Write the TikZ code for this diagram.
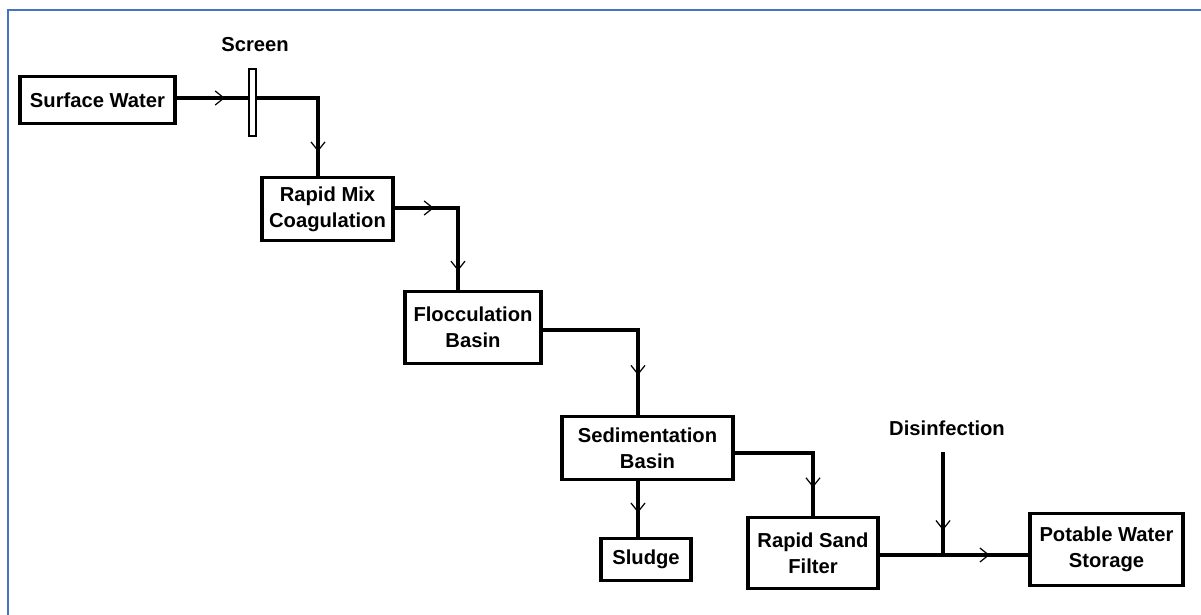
\documentclass[tikz,border=0pt]{standalone}
\usepackage{fontspec}
\setmainfont{Liberation Sans}
\usetikzlibrary{arrows.meta,decorations.markings}

\tikzset{
  unit/.style={draw, line width=2pt, align=center, inner sep=0pt,
    font=\bfseries\fontsize{11.5}{14.6}\selectfont},
  flow/.style={line width=1.8pt},
  tip at/.style={postaction={decorate}, decoration={markings,
    mark=at position #1 with {\arrow{Straight Barb[line width=0.7pt,length=5pt,width=8pt]}}}},
  two tips/.style 2 args={postaction={decorate}, decoration={markings,
    mark=at position #1 with {\arrow{Straight Barb[line width=0.7pt,length=5pt,width=8pt]}},
    mark=at position #2 with {\arrow{Straight Barb[line width=0.7pt,length=5pt,width=8pt]}}}},
  lbl/.style={font=\bfseries\fontsize{11.5}{14.6}\selectfont},
  frame/.style={draw={rgb,255:red,68;green,114;blue,196}, line width=1.2pt}
}

\begin{document}
\begin{tikzpicture}[x=0.02cm, y=-0.02cm]
	\useasboundingbox (0,0) rectangle (1201,615);
	\fill[white] (0,0) rectangle (1201,615);
	\draw[frame] (8,615) |- (1201,10);

	% units of the plant
	\node[unit, minimum width=3.1cm, minimum height=0.94cm] (sw) at (97.5,100) {Surface Water};
	\node[unit, minimum width=2.62cm, minimum height=1.26cm] (rmc) at (327.5,209) {Rapid Mix\\Coagulation};
	\node[unit, minimum width=2.72cm, minimum height=1.44cm] (fb) at (473,327.5) {Flocculation\\Basin};
	\node[unit, minimum width=3.42cm, minimum height=1.26cm] (sb) at (647.5,448) {Sedimentation\\Basin};
	\node[unit, minimum width=1.80cm, minimum height=0.84cm] (sl) at (646,559.5) {Sludge};
	\node[unit, minimum width=2.60cm, minimum height=1.42cm] (rsf) at (813,553) {Rapid Sand\\Filter};
	\node[unit, minimum width=3.06cm, minimum height=1.44cm] (pws) at (1106.5,549.5) {Potable Water\\Storage};

	\node[lbl] (scrl) at (255,45) {Screen};
	\node[lbl] (dis) at (947,428) {Disinfection};

	% bends
	\coordinate (b1) at (318,98);
	\coordinate (b2) at (458,208);
	\coordinate (b3) at (638,330);
	\coordinate (b4) at (813,453);
	\coordinate (s1) at (638,481);
	\coordinate (d1) at (943,452);
	\coordinate (j1) at (943,555);

	% flow lines
	\draw[flow, two tips={0.22}{0.89}] (sw.east |- b1) -- (b1) -- (b1 |- rmc.north);
	\draw[flow, two tips={0.27}{0.87}] (rmc.east |- b2) -- (b2) -- (b2 |- fb.north);
	\draw[flow, tip at=0.78] (fb.east |- b3) -- (b3) -- (b3 |- sb.north);
	\draw[flow, tip at=0.57] (s1) -- (s1 |- sl.north);
	\draw[flow, tip at=0.80] (sb.east |- b4) -- (b4) -- (b4 |- rsf.north);
	\draw[flow, tip at=0.74] (rsf.east |- j1) -- (pws.west |- j1);
	\draw[line width=2.6pt, tip at=0.76] (d1) -- (j1);

	% screen across the intake line
	\node[draw, fill=white, line width=1.3pt, minimum width=0.14cm, minimum height=1.34cm, inner sep=0pt] (scr) at (252.5,102.5) {};
\end{tikzpicture}
\end{document}
